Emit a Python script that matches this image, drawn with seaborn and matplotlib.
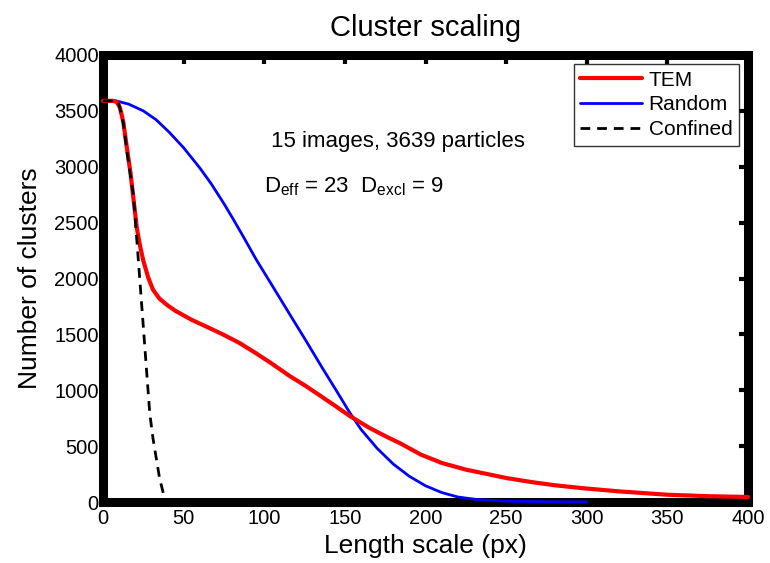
import matplotlib
matplotlib.use("Agg")
import matplotlib.pyplot as plt
import seaborn as sns
import pandas as pd

# --- data ---
tem_x = [0, 6, 8.5, 10.5, 12.6, 15, 17, 19, 21, 23, 25, 28, 31, 35, 40, 45, 55, 64,
         75, 85, 95, 104, 116, 125, 133, 143, 153, 165, 175, 185, 197, 210, 225, 240,
         250, 265, 280, 298, 320, 350, 375, 400]
tem_y = [3590, 3590, 3580, 3530, 3400, 3150, 2950, 2700, 2450, 2290, 2160, 2010, 1900,
         1820, 1760, 1710, 1630, 1570, 1495, 1420, 1330, 1245, 1125, 1045, 968, 870, 770,
         665, 590, 520, 425, 350, 290, 245, 215, 180, 150, 123, 95, 65, 52, 45]

rand_x = [0, 8, 16, 25, 33, 41, 50, 60, 67, 75, 81, 87, 95, 105, 116, 126, 136, 145,
          153, 160, 170, 180, 190, 200, 210, 220, 232, 250, 275, 300]
rand_y = [3590, 3590, 3560, 3500, 3420, 3310, 3170, 2990, 2850, 2670, 2525, 2375, 2170,
          1935, 1675, 1440, 1200, 990, 800, 650, 480, 340, 230, 145, 85, 45, 22, 8, 2, 0]

conf_x = [0, 5, 9.5, 12.6, 15, 18.8, 21, 23, 25, 27, 29, 31, 33.2, 35, 37.4, 38]
conf_y = [3590, 3590, 3583, 3390, 3120, 2750, 2340, 1957, 1569, 1180, 793, 570, 376, 220, 78, 30]

series_names = ["TEM", "Random", "Confined"]
x_ticks = [0, 50, 100, 150, 200, 250, 300, 350, 400]
y_ticks = [0, 500, 1000, 1500, 2000, 2500, 3000, 3500, 4000]

sns.set_style("white")
plt.rcParams['font.family'] = ['Liberation Sans', 'DejaVu Sans']
plt.rcParams['mathtext.fontset'] = 'custom'
plt.rcParams['mathtext.rm'] = 'Liberation Sans'
plt.rcParams['text.color'] = 'black'
plt.rcParams['axes.labelcolor'] = 'black'
plt.rcParams['xtick.color'] = 'black'
plt.rcParams['ytick.color'] = 'black'

fig = plt.figure(figsize=(7.7, 5.63), dpi=100)
ax = fig.add_axes([103 / 770, 1 - 502 / 563, 645 / 770, 447 / 563])

df_tem = pd.DataFrame({"x": tem_x, "y": tem_y})
df_rand = pd.DataFrame({"x": rand_x, "y": rand_y})
df_conf = pd.DataFrame({"x": conf_x, "y": conf_y})

sns.lineplot(data=df_tem, x="x", y="y", ax=ax, color="#ff0000", lw=3.0,
             label=series_names[0], estimator=None, sort=False, zorder=4, clip_on=False)
sns.lineplot(data=df_rand, x="x", y="y", ax=ax, color="#0000ff", lw=2.0,
             label=series_names[1], estimator=None, sort=False, zorder=3, clip_on=False)
sns.lineplot(data=df_conf, x="x", y="y", ax=ax, color="black", lw=2.0,
             label=series_names[2], estimator=None, sort=False, zorder=5, clip_on=False)
ax.lines[2].set_dashes((3.5, 2.5))

ax.set_xlim(0, 400)
ax.set_ylim(0, 4000)
ax.set_xticks(x_ticks)
ax.set_yticks(y_ticks)
ax.tick_params(axis='both', which='both', direction='in', length=6.5, width=3,
               top=True, right=True, labelsize=14.5, color='black', labelcolor='black')
ax.tick_params(axis='y', pad=3)
ax.tick_params(axis='x', pad=5)

for sp in ax.spines.values():
    sp.set_linewidth(6.5)
    sp.set_color('black')

ax.set_xlabel("Length scale (px)", fontsize=19, labelpad=4, color='black')
ax.set_ylabel("Number of clusters", fontsize=19, labelpad=9, color='black')
ax.set_title("Cluster scaling", fontsize=21, pad=14, color='black')

ax.text(104, 3222, "15 images, 3639 particles", fontsize=16, va='center', ha='left',
        color='black')
ax.text(100, 2819, r"D$_{\mathrm{eff}}$ = 23  D$_{\mathrm{excl}}$ = 9", fontsize=16,
        va='center', ha='left', color='black')

leg = ax.legend(loc='upper right', fontsize=15, frameon=True, fancybox=False,
                borderaxespad=0.45, handlelength=3.0, labelspacing=0.28,
                borderpad=0.3, handletextpad=0.3)
leg.get_frame().set_edgecolor('black')
leg.get_frame().set_linewidth(1.0)
leg.set_zorder(10)
for t in leg.get_texts():
    t.set_color('black')

fig.savefig("out.png", dpi=100)
